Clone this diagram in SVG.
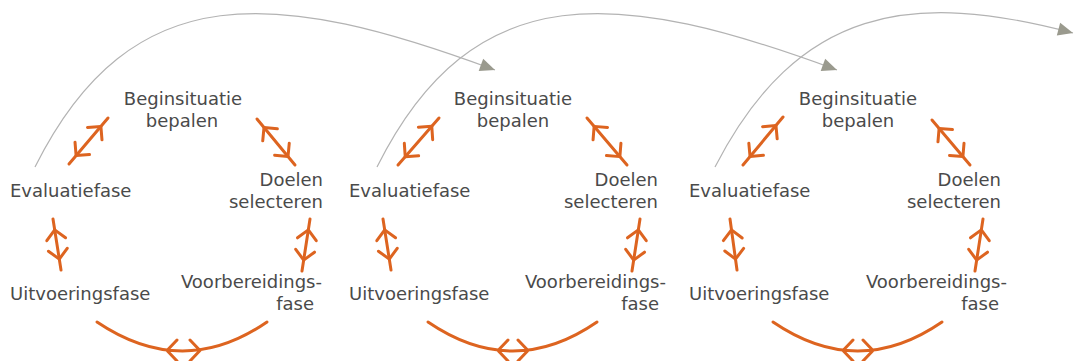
<svg xmlns="http://www.w3.org/2000/svg" width="1075" height="361" viewBox="0 0 1075 361">
  <style>
    .lbl { font-family: "DejaVu Sans", "Liberation Sans", sans-serif; font-size: 18px; fill: #4a4a4a; }
    .mid { text-anchor: middle; }
    .end { text-anchor: end; }
    .dbl { fill: none; stroke: #dd6420; stroke-width: 3; stroke-linecap: round; marker-start: url(#chev); marker-end: url(#chev); }
    .arc { fill: none; stroke: #dd6420; stroke-width: 3; stroke-linecap: round; stroke-linejoin: round; }
    .flow { fill: none; stroke: #b3b3b3; stroke-width: 1.2; marker-end: url(#tri); }
  </style>
  <defs>
    <marker id="chev" markerUnits="userSpaceOnUse" markerWidth="30" markerHeight="30" refX="11" refY="0" orient="auto-start-reverse" overflow="visible">
      <path d="M-9.5,-9.5 L0,0 L-9.5,9.5" fill="none" stroke="#dd6420" stroke-width="3" stroke-linecap="round" stroke-linejoin="round"/>
    </marker>
    <marker id="tri" markerUnits="userSpaceOnUse" markerWidth="20" markerHeight="20" refX="0" refY="0" orient="auto" overflow="visible">
      <path d="M0,0 L-15,-6.5 L-15,6.5 Z" fill="#9a9a8e"/>
    </marker>
  </defs>

  <g id="connectors">
    <!-- grey transfer arcs -->
    <path class="flow" d="M35,167 C132,-27 279,-10 495,70"/>
    <path class="flow" d="M377,167 C474,-27 621,-10 837,70"/>
    <path class="flow" d="M715,167 C798,6 912,-9.7 1073,33"/>

    <!-- cycle 1 -->
    <path class="dbl" d="M69,164 L108,118"/>
    <path class="dbl" d="M257,119 L295,165"/>
    <path class="dbl" d="M310,219 L302,271"/>
    <path class="dbl" d="M53,219 L61,270"/>
    <path class="arc" d="M97,322 Q183,380 267,322 M177,340 L167,350.5 L177,361 M190,340 L200,350.5 L190,361"/>

    <!-- cycle 2 -->
    <path class="dbl" d="M398,165 L439,118"/>
    <path class="dbl" d="M587,118 L627,165"/>
    <path class="dbl" d="M640,219 L632,271"/>
    <path class="dbl" d="M383,219 L391,270"/>
    <path class="arc" d="M428,322 Q513,380 597,322 M508,340 L498,350.5 L508,361 M518,340 L528,350.5 L518,361"/>

    <!-- cycle 3 -->
    <path class="dbl" d="M743,165 L783,117"/>
    <path class="dbl" d="M932,120 L970,165"/>
    <path class="dbl" d="M983,219 L975,271"/>
    <path class="dbl" d="M730,219 L737,270"/>
    <path class="arc" d="M773,322 Q858,380 942,322 M853,340 L843,350.5 L853,361 M863,340 L873,350.5 L863,361"/>
  </g>

  <!-- cycle 1 nodes -->
  <g id="c1-beginsituatie"><text class="lbl mid" x="183" y="105">Beginsituatie</text><text class="lbl mid" x="182" y="127">bepalen</text></g>
  <g id="c1-doelen"><text class="lbl end" x="323" y="186">Doelen</text><text class="lbl end" x="323" y="208">selecteren</text></g>
  <g id="c1-voorbereiding"><text class="lbl end" x="322" y="288">Voorbereidings-</text><text class="lbl end" x="314" y="310">fase</text></g>
  <g id="c1-uitvoering"><text class="lbl" x="10" y="300">Uitvoeringsfase</text></g>
  <g id="c1-evaluatie"><text class="lbl" x="10" y="197">Evaluatiefase</text></g>

  <!-- cycle 2 nodes -->
  <g id="c2-beginsituatie"><text class="lbl mid" x="513" y="105">Beginsituatie</text><text class="lbl mid" x="513" y="127">bepalen</text></g>
  <g id="c2-doelen"><text class="lbl end" x="658" y="186">Doelen</text><text class="lbl end" x="658" y="208">selecteren</text></g>
  <g id="c2-voorbereiding"><text class="lbl end" x="666" y="288">Voorbereidings-</text><text class="lbl end" x="659" y="310">fase</text></g>
  <g id="c2-uitvoering"><text class="lbl" x="349" y="300">Uitvoeringsfase</text></g>
  <g id="c2-evaluatie"><text class="lbl" x="349" y="197">Evaluatiefase</text></g>

  <!-- cycle 3 nodes -->
  <g id="c3-beginsituatie"><text class="lbl mid" x="858" y="105">Beginsituatie</text><text class="lbl mid" x="858" y="127">bepalen</text></g>
  <g id="c3-doelen"><text class="lbl end" x="1001" y="186">Doelen</text><text class="lbl end" x="1001" y="208">selecteren</text></g>
  <g id="c3-voorbereiding"><text class="lbl end" x="1007" y="288">Voorbereidings-</text><text class="lbl end" x="999" y="310">fase</text></g>
  <g id="c3-uitvoering"><text class="lbl" x="689" y="300">Uitvoeringsfase</text></g>
  <g id="c3-evaluatie"><text class="lbl" x="689" y="197">Evaluatiefase</text></g>
</svg>
